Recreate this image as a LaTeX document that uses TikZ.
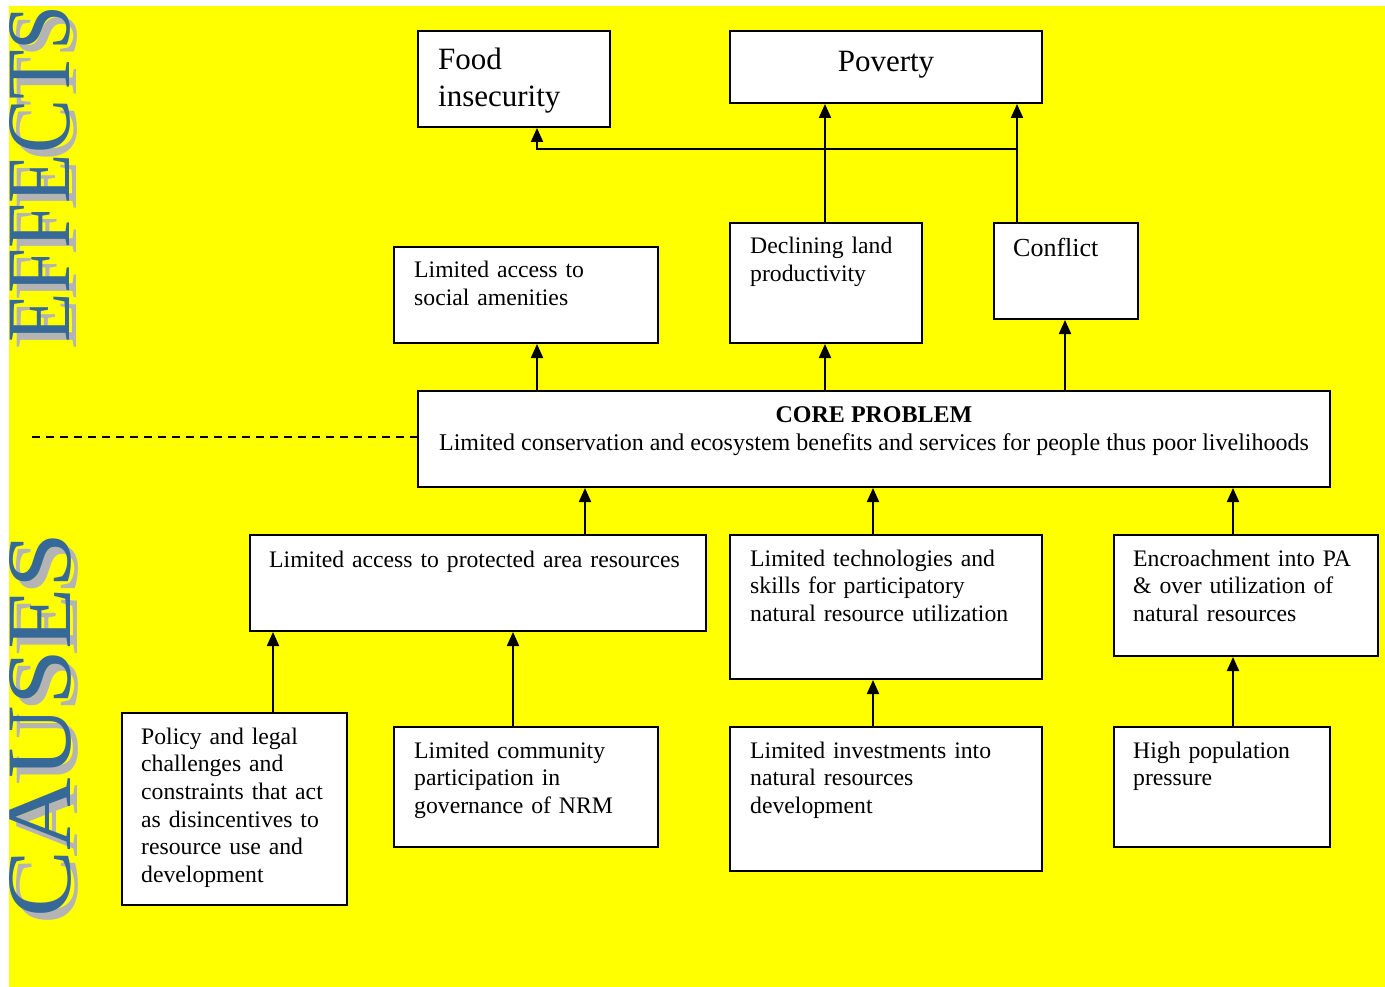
\documentclass[tikz,border=0pt]{standalone}
\usepackage{fontspec}
\setmainfont{Liberation Serif}
\usetikzlibrary{arrows.meta,calc}
\definecolor{bg}{RGB}{255,255,0}
\definecolor{capblue}{RGB}{54,104,152}
\definecolor{capgray}{RGB}{180,180,180}
\tikzset{
  box/.style={draw=black, line width=2pt, fill=white, inner sep=0pt, anchor=north west},
  txt/.style={font=\fontsize{23.7}{27.7}\selectfont, align=left, inner sep=0pt, anchor=base west, text width=430pt},
  big/.style={font=\fontsize{31}{37}\selectfont, align=left, inner sep=0pt, anchor=base west, text width=300pt},
  arr/.style={line width=2pt, -{Triangle[width=12pt,length=14pt]}},
  sidelabel/.style={inner sep=0pt, rotate=90, anchor=center},
}
\begin{document}
\begin{tikzpicture}[x=1pt,y=-1pt]
\useasboundingbox (0,0) rectangle (1385,987);
\fill[bg] (9,6) rectangle (1385,987);

% side labels
\node[sidelabel, text=capgray] (effS) at (47,181) {\resizebox{337pt}{60pt}{EFFECTS}};
\node[sidelabel, text=capblue] (eff) at (40,174) {\resizebox{337pt}{60pt}{EFFECTS}};
\node[sidelabel, text=capgray] (cauS) at (47,732) {\resizebox{385pt}{61pt}{CAUSES}};
\node[sidelabel, text=capblue] (cau) at (40,725) {\resizebox{385pt}{61pt}{CAUSES}};

% boxes
\node[box, minimum width=192pt, minimum height=96pt] (food) at (417,30) {};
\node[box, minimum width=312pt, minimum height=72pt] (pov) at (729,30) {};
\node[box, minimum width=264pt, minimum height=96pt] (soc) at (393,246) {};
\node[box, minimum width=192pt, minimum height=120pt] (dec) at (729,222) {};
\node[box, minimum width=144pt, minimum height=96pt] (conf) at (993,222) {};
\node[box, minimum width=912pt, minimum height=96pt] (core) at (417,390) {};
\node[box, minimum width=456pt, minimum height=96pt] (prot) at (249,534) {};
\node[box, minimum width=312pt, minimum height=144pt] (tech) at (729,534) {};
\node[box, minimum width=264pt, minimum height=121pt] (enc) at (1113,534) {};
\node[box, minimum width=225pt, minimum height=192pt] (pol) at (121,712) {};
\node[box, minimum width=264pt, minimum height=120pt] (com) at (393,726) {};
\node[box, minimum width=312pt, minimum height=144pt] (inv) at (729,726) {};
\node[box, minimum width=216pt, minimum height=120pt] (pop) at (1113,726) {};

% texts
\node[big] (foodt) at ([shift={(21,40)}]food.north west) {Food\\insecurity};
\node[font=\fontsize{31}{37}\selectfont, inner sep=0pt, anchor=base] (povt) at ([shift={(0,42)}]pov.north) {Poverty};
\node[txt] (soct) at ([shift={(21,32)}]soc.north west) {Limited access to\\social amenities};
\node[txt] (dect) at ([shift={(21,32)}]dec.north west) {Declining land\\productivity};
\node[txt, font=\fontsize{26}{30}\selectfont] (conft) at ([shift={(20,35)}]conf.north west) {Conflict};
\node[font=\fontsize{24}{27.7}\selectfont\bfseries, inner sep=0pt, anchor=base] (coret) at ([shift={(0,32)}]core.north) {CORE PROBLEM};
\node[font=\fontsize{24}{27.7}\selectfont, inner sep=0pt, anchor=base] (coret2) at ([shift={(0,60)}]core.north) {Limited conservation and ecosystem benefits and services for people thus poor livelihoods};
\node[txt] (prott) at ([shift={(20,33)}]prot.north west) {Limited access to protected area resources};
\node[txt] (techt) at ([shift={(21,32)}]tech.north west) {Limited technologies and\\skills for participatory\\natural resource utilization};
\node[txt] (enct) at ([shift={(20,32)}]enc.north west) {Encroachment into PA\\\& over utilization of\\natural resources};
\node[txt] (polt) at ([shift={(20,32)}]pol.north west) {Policy and legal\\challenges and\\constraints that act\\as disincentives to\\resource use and\\development};
\node[txt] (comt) at ([shift={(21,32)}]com.north west) {Limited community\\participation in\\governance of NRM};
\node[txt] (invt) at ([shift={(21,32)}]inv.north west) {Limited investments into\\natural resources\\development};
\node[txt] (popt) at ([shift={(20,32)}]pop.north west) {High population\\pressure};

% connector x positions
\coordinate (x273) at (273,0);
\coordinate (x513) at (513,0);
\coordinate (x537) at (537,0);
\coordinate (x585) at (585,0);
\coordinate (x825) at (825,0);
\coordinate (x873) at (873,0);
\coordinate (x1017) at (1017,0);
\coordinate (x1065) at (1065,0);
\coordinate (x1233) at (1233,0);
\coordinate (j) at (1017,149);
\coordinate (dl) at (32,437);

% connectors
\draw[arr] (conf.north -| x1017) -- (pov.south -| x1017);
\draw[arr] (dec.north -| x825) -- (pov.south -| x825);
\draw[arr] (j) -| (food.south -| x537);
\draw[arr] (core.north -| x537) -- (soc.south -| x537);
\draw[arr] (core.north -| x825) -- (dec.south -| x825);
\draw[arr] (core.north -| x1065) -- (conf.south -| x1065);
\draw[arr] (prot.north -| x585) -- (core.south -| x585);
\draw[arr] (tech.north -| x873) -- (core.south -| x873);
\draw[arr] (enc.north -| x1233) -- (core.south -| x1233);
\draw[arr] (pol.north -| x273) -- (prot.south -| x273);
\draw[arr] (com.north -| x513) -- (prot.south -| x513);
\draw[arr] (inv.north -| x873) -- (tech.south -| x873);
\draw[arr] (pop.north -| x1233) -- (enc.south -| x1233);
\draw[line width=2pt, dash pattern=on 8pt off 6pt] (dl) -- (dl -| core.west);
\end{tikzpicture}
\end{document}
